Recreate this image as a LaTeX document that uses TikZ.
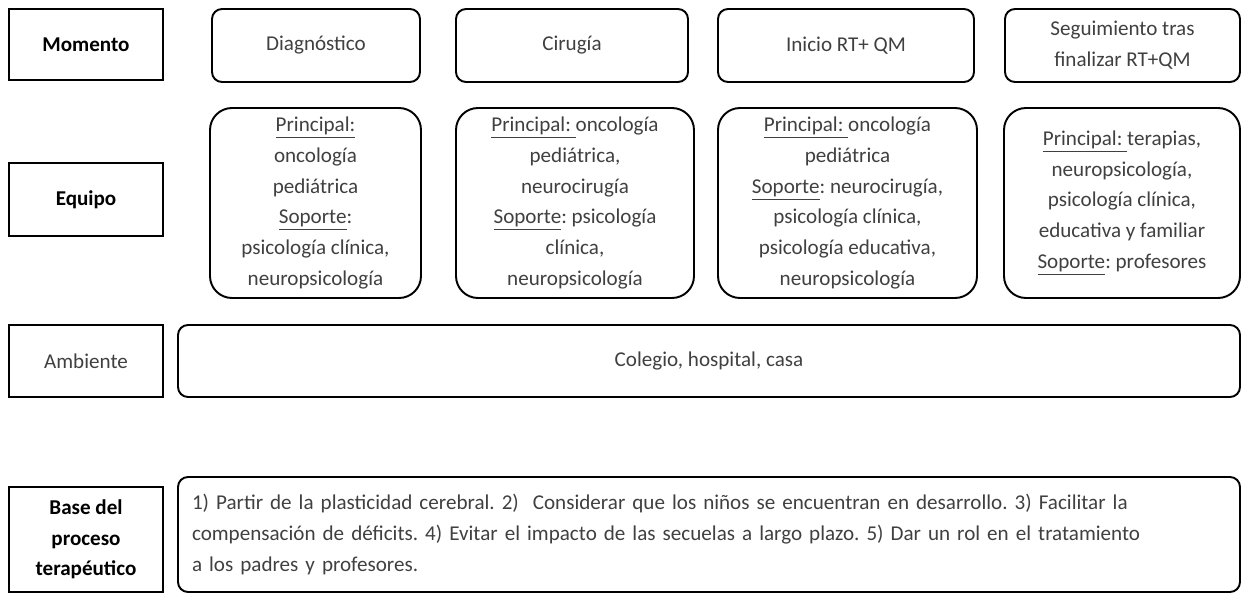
\documentclass[tikz,border=0pt]{standalone}
\usepackage{fontspec}
\setmainfont{Carlito}
\usepackage{tikz}
\usetikzlibrary{positioning}

\begin{document}
\frenchspacing
\begin{tikzpicture}[
        font=\fontsize{12}{17.5}\selectfont,
        rowlbl/.style={draw,line width=1.4pt,minimum width=3.08cm,align=center,inner sep=2pt},
        stage/.style={draw,line width=1.1pt,rounded corners=0.2cm,minimum height=1.46cm,align=center,text=black!75,inner sep=2pt},
        team/.style={draw,line width=1.1pt,rounded corners=0.44cm,minimum height=3.8cm,align=center,text=black!75,inner sep=2pt},
        wide/.style={draw,line width=1.1pt,rounded corners=0.2cm,minimum width=21.24cm,text=black!75}]
        \useasboundingbox (0,0) rectangle (24.84,-11.86);
        \node[rowlbl,minimum height=1.42cm] (m0) at (1.72,-0.89) {\textbf{Momento}};
        \node[rowlbl,minimum height=1.46cm] (e0) at (1.72,-3.99) {\textbf{Equipo}};
        \node[rowlbl,minimum height=1.44cm,text=black!75] (a0) at (1.72,-7.22) {Ambiente};
        \node[rowlbl,minimum height=2.10cm] (b0) at (1.72,-10.79) {\textbf{Base del}\\\textbf{proceso}\\\textbf{terapéutico}};

        \node[stage,minimum width=4.16cm] (m1) at (6.32,-0.91) {Diagnóstico};
        \node[stage,minimum width=4.64cm] (m2) at (11.44,-0.91) {Cirugía};
        \node[stage,minimum width=5.12cm] (m3) at (16.92,-0.91) {Inicio RT+ QM};
        \node[stage,minimum width=4.70cm] (m4) at (22.45,-0.91) {Seguimiento tras\\finalizar RT+QM};

        \node[team,minimum width=4.22cm] (e1) at (6.31,-4.06) {\underline{Principal:}\\oncología\\pediátrica\\\underline{Soporte}:\\psicología clínica,\\neuropsicología};
        \node[team,minimum width=4.76cm] (e2) at (11.50,-4.06) {\underline{Principal: }oncología\\pediátrica,\\neurocirugía\\\underline{Soporte}: psicología\\clínica,\\neuropsicología};
        \node[team,minimum width=5.18cm] (e3) at (16.95,-4.06) {\underline{Principal: }oncología\\pediátrica\\\underline{Soporte}: neurocirugía,\\psicología clínica,\\psicología educativa,\\neuropsicología};
        \node[team,minimum width=4.72cm] (e4) at (22.44,-4.06) {\underline{Principal: }terapias,\\neuropsicología,\\psicología clínica,\\educativa y familiar\\\underline{Soporte}: profesores};

        \node[wide,minimum height=1.44cm] (a1) at (14.18,-7.22) {Colegio, hospital, casa};
        \node[wide,minimum height=2.30cm,text width=20.68cm,align=left] (b1) at (14.18,-10.69) {1) Partir de la plasticidad cerebral. 2)\ \ Considerar que los niños se encuentran en desarrollo. 3) Facilitar la\\compensación de déficits. 4) Evitar el impacto de las secuelas a largo plazo. 5) Dar un rol en el tratamiento\\a los padres y profesores.};
\end{tikzpicture}
\end{document}
